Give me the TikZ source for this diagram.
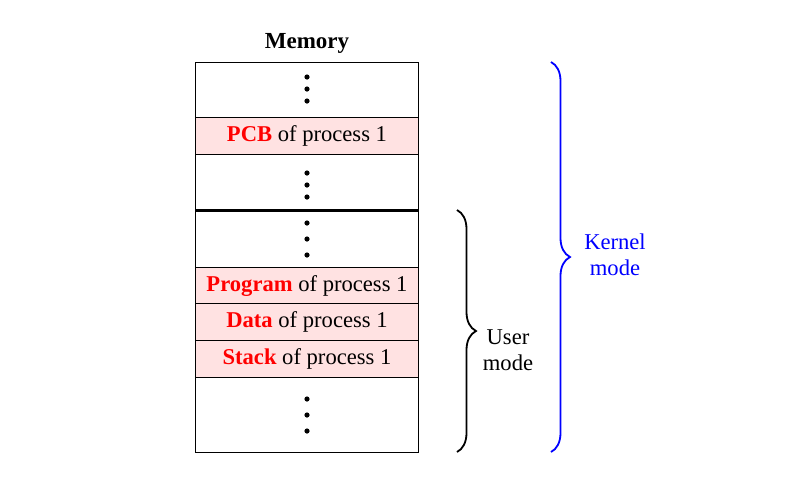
\documentclass[tikz,border=0pt]{standalone}
\usepackage{fontspec}
\setmainfont{Liberation Serif}
\usetikzlibrary{decorations.pathreplacing}
\definecolor{cellpink}{RGB}{255,226,226}
\tikzset{
    cell/.style={draw, line width=1pt, minimum width=223pt, inner sep=0pt, outer sep=0pt, anchor=north},
    pcell/.style={cell, fill=cellpink, text depth=0pt, text height=12pt},
    membrace/.style={decorate, decoration={brace, amplitude=19pt}, line width=1.8pt}
}
\begin{document}
\begin{tikzpicture}[x=1pt, y=-1pt, font=\fontsize{22.6}{26}\selectfont]
        \useasboundingbox ( 0, 0 ) rectangle ( 793, 499 );

        % память
        \node [ font=\fontsize{23}{26}\selectfont\bfseries ] (title) at ( 307, 43 ) {Memory};
        \node [ cell, minimum height=55pt ] (top) at ( 307, 62 ) {};
        \node [ pcell, minimum height=37pt ] (pcb) at ( 307, 117 ) {\textcolor{red}{\textbf{PCB}} of process 1};
        \node [ cell, minimum height=56pt ] (kfree) at ( 307, 154 ) {};
        \node [ cell, minimum height=57pt ] (ufree) at ( 307, 210 ) {};
        \node [ pcell, minimum height=36pt ] (prog) at ( 307, 267 ) {\textcolor{red}{\textbf{Program}} of process 1};
        \node [ pcell, minimum height=37pt ] (data) at ( 307, 303 ) {\textcolor{red}{\textbf{Data}} of process 1};
        \node [ pcell, minimum height=37pt ] (stack) at ( 307, 340 ) {\textcolor{red}{\textbf{Stack}} of process 1};
        \node [ cell, minimum height=75pt ] (bottom) at ( 307, 377 ) {};

        % граница
        \draw [ line width=3pt ] (kfree.south west) -- (kfree.south east);

        % точки
        \foreach \yy in { 77, 89, 101, 173, 185, 197, 223, 239, 255, 399, 415, 431 }
            \fill ( 307, \yy ) circle ( 2.6pt );

        % скобки
        \coordinate (utop) at ( 457, 210 );
        \coordinate (ubot) at ( 457, 452 );
        \coordinate (ktop) at ( 551, 62 );
        \coordinate (kbot) at ( 551, 452 );
        \draw [ membrace ] (utop) -- (ubot);
        \draw [ membrace, blue ] (ktop) -- (kbot);
        \node [ align=center ] (user) at ( 508, 350 ) {User\\mode};
        \node [ align=center, text=blue ] (kernel) at ( 615, 255 ) {Kernel\\mode};
    \end{tikzpicture}
\end{document}
